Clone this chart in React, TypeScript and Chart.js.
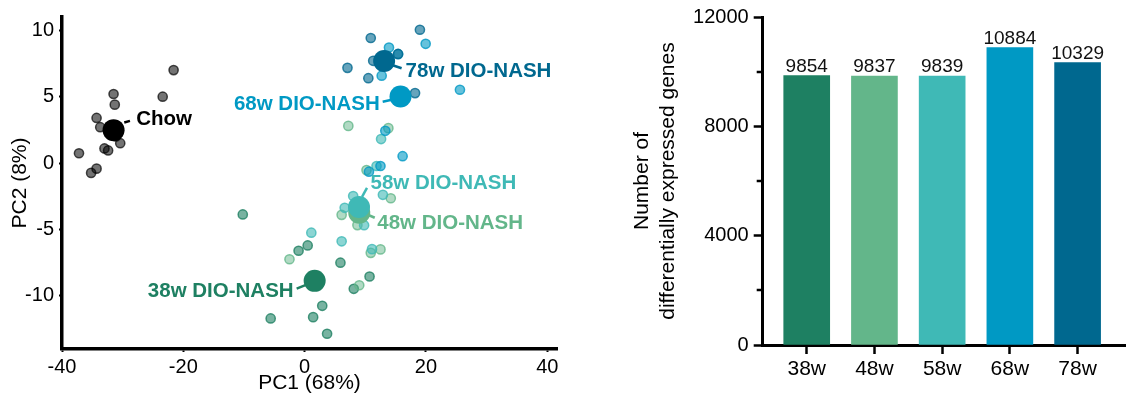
import React, { useEffect, useRef } from 'react';
import { Chart, registerables } from 'chart.js';

Chart.register(...registerables);

const FONT = '"Liberation Sans", Arial, Helvetica, sans-serif';

// ---------- PCA scatter data ----------
const chowPC1 = [-21.6, -23.4, -31.5, -31.3, -34.3, -33.7, -30.4, -31.1, -33.0, -32.4, -37.2, -34.3, -35.2];
const chowPC2 = [7.0, 5.0, 5.2, 4.4, 3.4, 2.7, 1.5, 2.0, 1.1, 0.95, 0.74, -0.42, -0.74];

const w38PC1 = [-10.2, 0.5, -1.0, 5.9, 10.7, 8.1, 2.9, 1.4, -5.6, 3.7];
const w38PC2 = [-3.87, -6.2, -6.6, -7.5, -8.54, -9.47, -10.75, -11.6, -11.7, -12.85];

const w48PC1 = [7.2, 13.8, 10.2, 14.2, 6.1, 8.7, -2.5, 12.5, 10.9, 9.0];
const w48PC2 = [2.8, 2.63, -0.53, -2.65, -3.9, -4.67, -7.24, -6.5, -6.76, -9.2];

const w58PC1 = [12.6, 11.85, 8.0, 12.9, 6.6, 9.8, 1.1, 6.1, 11.1];
const w58PC2 = [1.81, -0.22, -2.48, -2.39, -3.37, -4.68, -5.24, -5.89, -6.48];

const w68PC1 = [19.95, 13.9, 15.4, 12.7, 25.6, 13.3, 16.15, 10.6, 12.5];
const w68PC2 = [8.98, 8.7, 8.2, 6.58, 5.52, 2.43, 0.52, -0.65, -0.22];

const w78PC1 = [19.0, 10.9, 15.4, 11.3, 7.06, 10.5, 18.2];
const w78PC2 = [10.04, 9.42, 8.22, 7.7, 7.17, 6.39, 5.27];

const groupNames = ['38w DIO-NASH', '48w DIO-NASH', '58w DIO-NASH', '68w DIO-NASH', '78w DIO-NASH'];
const groupColors = ['#1e8062', '#63b68a', '#3fb9b6', '#0099c4', '#00688f'];
const groupPC1 = [w38PC1, w48PC1, w58PC1, w68PC1, w78PC1];
const groupPC2 = [w38PC2, w48PC2, w58PC2, w68PC2, w78PC2];

// group means (large dots)
const centroidPC1 = [1.65, 9.0, 8.96, 15.8, 13.1];
const centroidPC2 = [-8.87, -3.74, -3.3, 5.02, 7.69];
const chowCentroidPC1 = -31.5;
const chowCentroidPC2 = 2.48;

const pcaXTicks = [-40, -20, 0, 20, 40];
const pcaYTicks = [-10, -5, 0, 5, 10];

// ---------- bar data ----------
const barCategories = ['38w', '48w', '58w', '68w', '78w'];
const barValues = [9854, 9837, 9839, 10884, 10329];
const barYTicks = [0, 4000, 8000, 12000];

// label placement (pixel offsets from the centroid)
const labelStyle = [
  { dx: -21, dy: 10, align: 'right', l: [-18, 7.7, -8, 3.7] },
  { dx: 18, dy: 10.7, align: 'left', l: [8.5, 2, 15.5, 5] },
  { dx: 11.5, dy: -23.3, align: 'left', l: [3, -10, 8, -19] },
  { dx: -20.8, dy: 8.3, align: 'right', l: [-17.8, 5.3, -8.8, 3.3] },
  { dx: 21.5, dy: 10, align: 'left', l: [8.5, 4.3, 17.5, 7.3] },
];
const chowLabelStyle = { dx: 22.7, dy: -11, align: 'left', l: [10.7, -7.7, 16.4, -9.3] };

function rgba(hex: string, a: number) {
  const n = parseInt(hex.slice(1), 16);
  return `rgba(${(n >> 16) & 255},${(n >> 8) & 255},${n & 255},${a})`;
}

const zip = (xs: number[], ys: number[]) => xs.map((x, i) => ({ x, y: ys[i] }));

const pcaLabelPlugin = {
  id: 'pcaLabels',
  afterDatasetsDraw(chart: any) {
    const { ctx } = chart;
    const xs = chart.scales.x;
    const ys = chart.scales.y;
    const items = groupNames.map((t, i) => ({
      text: t,
      color: groupColors[i],
      px: xs.getPixelForValue(centroidPC1[i]),
      py: ys.getPixelForValue(centroidPC2[i]),
      s: labelStyle[i],
    }));
    items.push({
      text: 'Chow',
      color: '#000',
      px: xs.getPixelForValue(chowCentroidPC1),
      py: ys.getPixelForValue(chowCentroidPC2),
      s: chowLabelStyle,
    });
    ctx.save();
    ctx.font = `bold 20.5px ${FONT}`;
    ctx.textBaseline = 'middle';
    for (const it of items) {
      ctx.strokeStyle = it.color;
      ctx.lineWidth = 2.5;
      ctx.beginPath();
      ctx.moveTo(it.px + it.s.l[0], it.py + it.s.l[1]);
      ctx.lineTo(it.px + it.s.l[2], it.py + it.s.l[3]);
      ctx.stroke();
      ctx.fillStyle = it.color;
      ctx.textAlign = it.s.align as CanvasTextAlign;
      ctx.fillText(it.text, it.px + it.s.dx, it.py + it.s.dy);
    }
    ctx.restore();
  },
};

const barLabelPlugin = {
  id: 'barLabels',
  afterDatasetsDraw(chart: any) {
    const { ctx } = chart;
    const meta = chart.getDatasetMeta(0);
    ctx.save();
    ctx.font = `19px ${FONT}`;
    ctx.fillStyle = '#111';
    ctx.textAlign = 'center';
    ctx.textBaseline = 'alphabetic';
    meta.data.forEach((el: any, i: number) => {
      ctx.fillText(String(barValues[i]), el.x, el.y - 4);
    });
    // minor ticks on y axis
    const ys = chart.scales.y;
    const left = chart.chartArea.left;
    ctx.strokeStyle = '#000';
    ctx.lineWidth = 2.5;
    ys.ticks.forEach((t: any) => {
      if (!barYTicks.includes(t.value)) {
        const y = Math.round(ys.getPixelForValue(t.value));
        ctx.beginPath();
        ctx.moveTo(left - 6, y);
        ctx.lineTo(left, y);
        ctx.stroke();
      }
    });
    ctx.restore();
  },
};

function PcaChart() {
  const ref = useRef<HTMLCanvasElement>(null);
  useEffect(() => {
    const smallSets: any[] = [
      {
        data: zip(chowPC1, chowPC2),
        backgroundColor: 'rgba(0,0,0,0.55)',
        borderColor: 'rgba(0,0,0,0.7)',
        borderWidth: 1.5,
        pointRadius: 4.6,
      },
      ...groupNames.map((_, i) => ({
        data: zip(groupPC1[i], groupPC2[i]),
        backgroundColor: rgba(groupColors[i], i === 1 ? 0.5 : 0.6),
        borderColor: rgba(groupColors[i], 0.8),
        borderWidth: 1.5,
        pointRadius: 4.6,
      })),
    ];
    const bigSets: any[] = [
      ...groupNames.map((_, i) => ({
        data: [{ x: centroidPC1[i], y: centroidPC2[i] }],
        backgroundColor: groupColors[i],
        borderColor: groupColors[i],
        borderWidth: 0,
        pointRadius: 11,
      })),
      {
        data: [{ x: chowCentroidPC1, y: chowCentroidPC2 }],
        backgroundColor: '#000',
        borderColor: '#000',
        borderWidth: 0,
        pointRadius: 11,
      },
    ];
    // draw order: later datasets on top => use 'order' (higher drawn first)
    const datasets = [...smallSets, ...bigSets].map((d, i, arr) => ({ ...d, order: arr.length - i, pointHoverRadius: d.pointRadius }));
    const chart = new Chart(ref.current!, {
      type: 'scatter',
      data: { datasets },
      plugins: [pcaLabelPlugin],
      options: {
        animation: false,
        responsive: false,
        maintainAspectRatio: false,
        layout: { padding: { left: 0, top: 9, right: 33, bottom: 0 } },
        plugins: { legend: { display: false }, tooltip: { enabled: false } },
        scales: {
          x: {
            type: 'linear',
            min: -40,
            max: 41.6,
            afterFit: (s: any) => { s.height = 53; },
            afterBuildTicks: (s: any) => { s.ticks = pcaXTicks.map((v) => ({ value: v })); },
            ticks: { color: '#000', font: { family: FONT, size: 20 }, padding: 3 },
            grid: { display: true, drawOnChartArea: false, drawTicks: true, tickLength: 3, tickWidth: 2, tickColor: '#000' },
            border: { display: true, color: '#000', width: 3.5 },
            title: { display: true, text: 'PC1 (68%)', color: '#000', font: { family: FONT, size: 21 }, padding: { top: 0, bottom: 6 } },
          },
          y: {
            type: 'linear',
            min: -14,
            max: 11,
            afterFit: (s: any) => { s.width = 62; },
            afterBuildTicks: (s: any) => { s.ticks = pcaYTicks.map((v) => ({ value: v })); },
            ticks: { color: '#000', font: { family: FONT, size: 20 }, padding: 5 },
            grid: { display: true, drawOnChartArea: false, drawTicks: true, tickLength: 3, tickWidth: 2, tickColor: '#000' },
            border: { display: true, color: '#000', width: 3.5 },
            title: { display: true, text: 'PC2 (8%)', color: '#000', font: { family: FONT, size: 21 }, padding: { top: 8, bottom: 0 } },
          },
        },
      } as any,
    });
    return () => chart.destroy();
  }, []);
  return <canvas ref={ref} width={590} height={402} style={{ position: 'absolute', left: 0, top: 0, width: 590, height: 402 }} />;
}

function BarChart() {
  const ref = useRef<HTMLCanvasElement>(null);
  useEffect(() => {
    const chart = new Chart(ref.current!, {
      type: 'bar',
      data: {
        datasets: [
          {
            data: barValues.map((v, i) => ({ x: i, y: v })),
            backgroundColor: groupColors,
            borderWidth: 0,
            barThickness: 46,
          },
        ],
      },
      plugins: [barLabelPlugin],
      options: {
        animation: false,
        responsive: false,
        maintainAspectRatio: false,
        layout: { padding: { left: 0, top: 15.7, right: 2, bottom: 0 } },
        plugins: { legend: { display: false }, tooltip: { enabled: false } },
        scales: {
          x: {
            type: 'linear',
            min: -0.65,
            max: 4.7,
            offset: false,
            afterFit: (s: any) => { s.height = 57; },
            afterBuildTicks: (s: any) => { s.ticks = barCategories.map((_, i) => ({ value: i })); },
            ticks: { color: '#000', font: { family: FONT, size: 21 }, padding: 3, callback: (v: any) => barCategories[Math.round(v)] ?? '' },
            grid: { display: true, offset: false, drawOnChartArea: false, drawTicks: true, tickLength: 9, tickWidth: 2.5, tickColor: '#000' },
            border: { display: true, color: '#000', width: 3 },
          },
          y: {
            type: 'linear',
            min: 0,
            max: 12000,
            afterFit: (s: any) => { s.width = 172.7; },
            ticks: {
              stepSize: 2000,
              color: '#000',
              font: { family: FONT, size: 20 },
              padding: 5,
              callback: (v: any) => (barYTicks.includes(v) ? String(v) : ''),
            },
            grid: {
              display: true,
              drawOnChartArea: false,
              drawTicks: true,
              tickLength: 9,
              tickWidth: 2.5,
              tickColor: (c: any) => (c.tick && barYTicks.includes(c.tick.value) ? '#000' : 'rgba(0,0,0,0)'),
            },
            border: { display: true, color: '#000', width: 3 },
            title: {
              display: true,
              text: ['Number of', 'differentially expressed genes'],
              color: '#000',
              font: { family: FONT, size: 21 },
              padding: { top: 40, bottom: 0 },
            },
          },
        },
      } as any,
    });
    return () => chart.destroy();
  }, []);
  return <canvas ref={ref} width={537} height={402} style={{ position: 'absolute', left: 590, top: 0, width: 537, height: 402 }} />;
}

export default function App() {
  return (
    <div style={{ position: 'fixed', left: 0, top: 0, width: 1127, height: 402, background: '#fff', overflow: 'hidden' }}>
      <PcaChart />
      <BarChart />
    </div>
  );
}
